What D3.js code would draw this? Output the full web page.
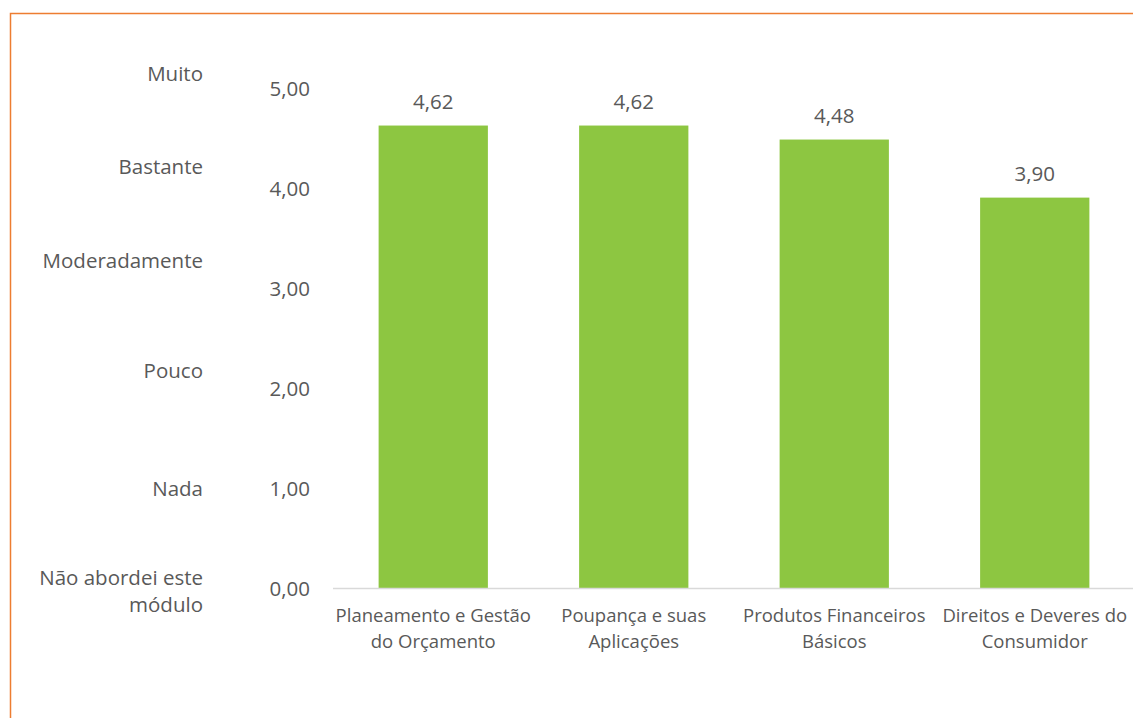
<!DOCTYPE html>
<html>
<head>
<meta charset="utf-8">
<script src="https://cdn.jsdelivr.net/npm/d3@7"></script>
<style>
  body { margin: 0; background: #fff; }
  text { font-family: "Open Sans", sans-serif; fill: #595959; }
</style>
</head>
<body>
<script>
const width = 1133;
const height = 718;

// data
const categories = [
  ['Planeamento e Gestão', 'do Orçamento'],
  ['Poupança e suas', 'Aplicações'],
  ['Produtos Financeiros', 'Básicos'],
  ['Direitos e Deveres do', 'Consumidor']
];
const values = [4.62, 4.62, 4.48, 3.90];
const yTicks = [0, 1, 2, 3, 4, 5];
const scaleLabels = [
  { text: ['Muito'], level: 5.14 },
  { text: ['Bastante'], level: 4.21 },
  { text: ['Moderadamente'], level: 3.27 },
  { text: ['Pouco'], level: 2.17 },
  { text: ['Nada'], level: 0.99 },
  { text: ['Não abordei este', 'módulo'], level: -0.03 }
];

const fmt = v => v.toFixed(2).replace('.', ',');

function init() {
  const svg = d3.select('body')
    .append('svg')
    .attr('width', width)
    .attr('height', height);

  // orange frame (top + left)
  svg.append('path')
    .attr('d', `M10.5,${height} V13.5 H${width}`)
    .attr('fill', 'none')
    .attr('stroke', '#ED7D31')
    .attr('stroke-width', 1.5);

  const x = d3.scaleBand()
    .domain(d3.range(categories.length))
    .range([333, 1135])
    .paddingInner(0.455)
    .paddingOuter(0.2275);

  const y = d3.scaleLinear()
    .domain([0, 5])
    .range([588, 87.5]);

  // y tick labels
  svg.append('g')
    .selectAll('text')
    .data(yTicks)
    .join('text')
    .attr('x', 310)
    .attr('y', d => y(d) + 1)
    .attr('dy', '0.35em')
    .attr('text-anchor', 'end')
    .style('font-size', '20.5px')
    .text(fmt);

  // left scale labels
  const sl = svg.append('g')
    .selectAll('text')
    .data(scaleLabels)
    .join('text')
    .attr('text-anchor', 'end')
    .style('font-size', '20.5px');
  sl.each(function(d) {
    const n = d.text.length;
    d3.select(this).selectAll('tspan')
      .data(d.text)
      .join('tspan')
      .attr('x', 203)
      .attr('y', (t, i) => y(d.level) + (i - (n - 1) / 2) * 27)
      .attr('dy', '0.35em')
      .text(t => t);
  });

  // bars
  svg.append('g')
    .selectAll('rect')
    .data(values)
    .join('rect')
    .attr('x', (d, i) => x(i))
    .attr('width', x.bandwidth())
    .attr('y', d => y(d))
    .attr('height', d => y(0) - y(d))
    .attr('fill', '#8DC641');

  // value labels
  svg.append('g')
    .selectAll('text')
    .data(values)
    .join('text')
    .attr('x', (d, i) => x(i) + x.bandwidth() / 2)
    .attr('y', d => y(d) - 17)
    .attr('text-anchor', 'middle')
    .style('font-size', '20.5px')
    .text(fmt);

  // baseline
  svg.append('line')
    .attr('x1', 333)
    .attr('x2', width)
    .attr('y1', y(0) + 0.5)
    .attr('y2', y(0) + 0.5)
    .attr('stroke', '#D9D9D9')
    .attr('stroke-width', 1.5);

  // category labels
  const cl = svg.append('g')
    .selectAll('text')
    .data(categories)
    .join('text')
    .attr('text-anchor', 'middle')
    .style('font-size', '18.5px');
  cl.each(function(d, i) {
    d3.select(this).selectAll('tspan')
      .data(d)
      .join('tspan')
      .attr('x', x(i) + x.bandwidth() / 2)
      .attr('y', (t, j) => 616 + j * 26)
      .attr('dy', '0.35em')
      .text(t => t);
  });
}

init();
</script>
</body>
</html>
